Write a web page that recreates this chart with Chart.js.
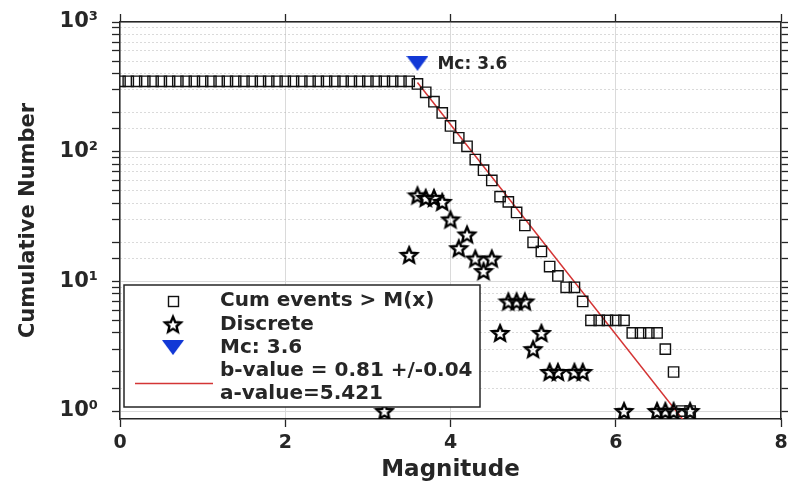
<!DOCTYPE html>
<html>
<head>
<meta charset="utf-8">
<title>Frequency-magnitude distribution</title>
<script src="https://cdn.jsdelivr.net/npm/chart.js@4.4.1/dist/chart.umd.min.js"></script>
<style>
  html, body { margin: 0; padding: 0; background: #fff; }
  #wrap { width: 790px; height: 493px; }
</style>
</head>
<body>
<div id="wrap"><canvas id="fmd"></canvas></div>
<script>
// cumulative number of events with magnitude >= M (0.1 bins)
const cumMag = [
    0.0, 0.1, 0.2, 0.3, 0.4, 0.5, 0.6, 0.7, 0.8, 0.9,
    1.0, 1.1, 1.2, 1.3, 1.4, 1.5, 1.6, 1.7, 1.8, 1.9,
    2.0, 2.1, 2.2, 2.3, 2.4, 2.5, 2.6, 2.7, 2.8, 2.9,
    3.0, 3.1, 3.2, 3.3, 3.4, 3.5, 3.6, 3.7, 3.8, 3.9,
    4.0, 4.1, 4.2, 4.3, 4.4, 4.5, 4.6, 4.7, 4.8, 4.9,
    5.0, 5.1, 5.2, 5.3, 5.4, 5.5, 5.6, 5.7, 5.8, 5.9,
    6.0, 6.1, 6.2, 6.3, 6.4, 6.5, 6.6, 6.7, 6.8, 6.9
];
const cumCount = [
    349, 349, 349, 349, 349, 349, 349, 349, 349, 349,
    349, 349, 349, 349, 349, 349, 349, 349, 349, 349,
    349, 349, 349, 349, 349, 349, 349, 349, 349, 349,
    349, 349, 349, 349, 349, 349, 333, 287, 243, 199,
    158, 128, 110, 87, 72, 60, 45, 41, 34, 27,
    20, 17, 13, 11, 9, 9, 7, 5, 5, 5,
    5, 5, 4, 4, 4, 4, 3, 2, 1, 1
];

// non-cumulative (discrete) counts per bin
const discMag   = [3.2, 3.5, 3.6, 3.7, 3.8, 3.9, 4.0, 4.1, 4.2, 4.3, 4.4, 4.5, 4.6, 4.7,
                   4.8, 4.9, 5.0, 5.1, 5.2, 5.3, 5.5, 5.6, 6.1, 6.5, 6.6, 6.7, 6.9];
const discCount = [1, 16, 46, 44, 44, 41, 30, 18, 23, 15, 12, 15, 4, 7,
                   7, 7, 3, 4, 2, 2, 2, 2, 1, 1, 1, 1, 1];

// magnitude of completeness marker
const mcMag = [3.6];
const mcCount = [480];

// Gutenberg-Richter fit line as drawn
const fitMag = [3.6, 6.9];
const fitCount = [342, 0.73];

const yMin = 0.868;
const yMax = 1000;
const xMin = 0;
const xMax = 8;
const xStep = 2;

const legendText = ['Cum events > M(x)', 'Discrete', 'Mc: 3.6', 'b-value = 0.81 +/-0.04', 'a-value=5.421'];
const mcLabel = 'Mc: 3.6';

const FONT = "'DejaVu Sans', sans-serif";
const TEXT = '#262626';
const AXIS = '#262626';
const GRID = '#dadada';
const MINOR = '#b4b4b4';
const FIT_RED = '#d43535';
const MC_BLUE = '#1238d6';

const SUP = { '0': '\u2070', '1': '\u00b9', '2': '\u00b2', '3': '\u00b3' };

function isDecade(v) {
    const l = Math.log10(v);
    return Math.abs(l - Math.round(l)) < 1e-9;
}

function makeStar(r) {
    const c = document.createElement('canvas');
    const s = Math.ceil(r * 2 + 5);
    c.width = s;
    c.height = s;
    const g = c.getContext('2d');
    g.translate(s / 2, s / 2 + r * 0.1);
    g.beginPath();
    for (let i = 0; i < 10; i++) {
        const rad = i % 2 ? r * 0.45 : r;
        const a = -Math.PI / 2 + i * Math.PI / 5;
        g.lineTo(rad * Math.cos(a), rad * Math.sin(a));
    }
    g.closePath();
    g.lineJoin = 'miter';
    g.lineWidth = 2.4;
    g.strokeStyle = '#000';
    g.stroke();
    return c;
}

function makeTriangle(w, h) {
    const c = document.createElement('canvas');
    c.width = w;
    c.height = h;
    const g = c.getContext('2d');
    g.beginPath();
    g.moveTo(0, 0);
    g.lineTo(w, 0);
    g.lineTo(w / 2, h);
    g.closePath();
    g.fillStyle = MC_BLUE;
    g.fill();
    return c;
}

const starImg = makeStar(8.3);
const triImg = makeTriangle(22, 15);

/* legend box + Mc annotation, drawn over the data like MATLAB does */
const overlayPlugin = {
    id: 'overlay',
    afterDraw(chart) {
        const { ctx, chartArea, scales } = chart;

        // Mc label next to the triangle
        const mx = scales.x.getPixelForValue(mcMag[0]);
        const my = scales.y.getPixelForValue(mcCount[0]);
        ctx.save();
        ctx.font = 'bold 17px ' + FONT;
        ctx.fillStyle = TEXT;
        ctx.textBaseline = 'middle';
        ctx.fillText(mcLabel, mx + 20, my + 1);
        ctx.restore();

        // legend
        const left = chartArea.left + 4;
        const bottom = chartArea.bottom - 12;
        const lineH = 23.3;
        const top = bottom - 122;
        const right = left + 356;
        ctx.save();
        ctx.fillStyle = '#fff';
        ctx.fillRect(left, top, right - left, bottom - top);
        ctx.strokeStyle = AXIS;
        ctx.lineWidth = 1.5;
        ctx.strokeRect(left, top, right - left, bottom - top);

        const mkX = left + 49;
        const rowY = i => top + 16 + i * lineH;

        ctx.lineWidth = 1.4;
        ctx.strokeStyle = '#111';
        ctx.strokeRect(Math.round(mkX - 5) + 0.5, Math.round(rowY(0) - 5) + 0.5, 10, 10);
        ctx.drawImage(starImg, mkX - starImg.width / 2, rowY(1) - starImg.height / 2);
        ctx.drawImage(triImg, mkX - triImg.width / 2, rowY(2) - triImg.height / 2);

        const ly = (rowY(3) + rowY(4)) / 2 + 1;
        ctx.strokeStyle = FIT_RED;
        ctx.lineWidth = 1.5;
        ctx.beginPath();
        ctx.moveTo(left + 11, ly);
        ctx.lineTo(left + 89, ly);
        ctx.stroke();

        ctx.font = 'bold 20px ' + FONT;
        ctx.fillStyle = TEXT;
        ctx.textBaseline = 'middle';
        legendText.forEach((t, i) => ctx.fillText(t, left + 96, rowY(i)));
        ctx.restore();
    }
};

const keepFromOne = s => { s.ticks = s.ticks.filter(t => t.value >= 1 - 1e-9); };

new Chart(document.getElementById('fmd'), {
    type: 'scatter',
    data: {
        datasets: [
            {
                label: 'Mc',
                data: mcMag.map((m, i) => ({ x: m, y: mcCount[i] })),
                pointStyle: triImg,
                pointRadius: 8,
                xAxisID: 'x',
                yAxisID: 'y'
            },
            {
                label: 'Cum events > M(x)',
                data: cumMag.map((m, i) => ({ x: m, y: cumCount[i] })),
                pointStyle: 'rect',
                pointRadius: 7.3,
                borderColor: '#111',
                borderWidth: 1.4,
                backgroundColor: 'rgba(0,0,0,0)',
                xAxisID: 'x',
                yAxisID: 'y'
            },
            {
                label: 'Discrete',
                data: discMag.map((m, i) => ({ x: m, y: discCount[i] })),
                pointStyle: starImg,
                pointRadius: 8,
                xAxisID: 'x',
                yAxisID: 'y'
            },
            {
                label: 'b-value',
                type: 'line',
                data: fitMag.map((m, i) => ({ x: m, y: fitCount[i] })),
                borderColor: FIT_RED,
                borderWidth: 1.5,
                pointRadius: 0,
                fill: false,
                xAxisID: 'x',
                yAxisID: 'y'
            }
        ]
    },
    options: {
        responsive: true,
        maintainAspectRatio: false,
        animation: false,
        layout: { padding: { left: 8, right: 0, top: 0, bottom: 0 } },
        plugins: {
            legend: { display: false },
            tooltip: { enabled: false }
        },
        scales: {
            x: {
                type: 'linear',
                position: 'bottom',
                min: xMin,
                max: xMax,
                ticks: {
                    stepSize: xStep,
                    autoSkip: false,
                    maxRotation: 0,
                    padding: 5,
                    color: TEXT,
                    font: { family: FONT, size: 19, weight: 'bold' }
                },
                grid: { color: GRID, lineWidth: 1, tickLength: 8, tickColor: AXIS, tickWidth: 1.3 },
                border: { color: AXIS, width: 1.5 },
                title: {
                    display: true,
                    text: 'Magnitude',
                    color: TEXT,
                    font: { family: FONT, size: 23, weight: 'bold' },
                    padding: { top: 0, bottom: 9 }
                },
                afterFit: s => { s.height = 74; s.paddingLeft = 0; s.paddingRight = 0; }
            },
            x2: {
                type: 'linear',
                position: 'top',
                min: xMin,
                max: xMax,
                ticks: { stepSize: xStep, display: false },
                grid: { drawOnChartArea: false, tickLength: 8, tickColor: AXIS, tickWidth: 1.3 },
                border: { color: AXIS, width: 1.5 },
                afterFit: s => { s.height = 22; s.paddingLeft = 0; s.paddingRight = 0; }
            },
            y: {
                type: 'logarithmic',
                position: 'left',
                min: yMin,
                max: yMax,
                afterBuildTicks: keepFromOne,
                ticks: {
                    autoSkip: false,
                    padding: 14,
                    color: TEXT,
                    font: { family: FONT, size: 21, weight: 'bold' },
                    callback: v => isDecade(v) ? '10' + SUP[String(Math.round(Math.log10(v)))] : ''
                },
                grid: {
                    color: c => (c.tick && !isDecade(c.tick.value)) ? MINOR : GRID,
                    lineWidth: 1,
                    tickLength: 8,
                    tickColor: AXIS,
                    tickWidth: 1.3
                },
                border: {
                    color: AXIS,
                    width: 1.5,
                    dash: c => (c.tick && !isDecade(c.tick.value)) ? [1, 3] : []
                },
                title: {
                    display: true,
                    text: 'Cumulative Number',
                    color: TEXT,
                    font: { family: FONT, size: 21, weight: 'bold' },
                    padding: { top: 8, bottom: 0 }
                },
                afterFit: s => { s.width = 112; s.paddingTop = 0; s.paddingBottom = 0; }
            },
            y2: {
                type: 'logarithmic',
                position: 'right',
                min: yMin,
                max: yMax,
                afterBuildTicks: keepFromOne,
                ticks: { display: false, autoSkip: false },
                grid: { drawOnChartArea: false, tickLength: 7, tickColor: AXIS, tickWidth: 1.3 },
                border: { color: AXIS, width: 1.5 },
                afterFit: s => { s.width = 7; s.paddingTop = 0; s.paddingBottom = 0; }
            }
        }
    },
    plugins: [overlayPlugin]
});
</script>
</body>
</html>
